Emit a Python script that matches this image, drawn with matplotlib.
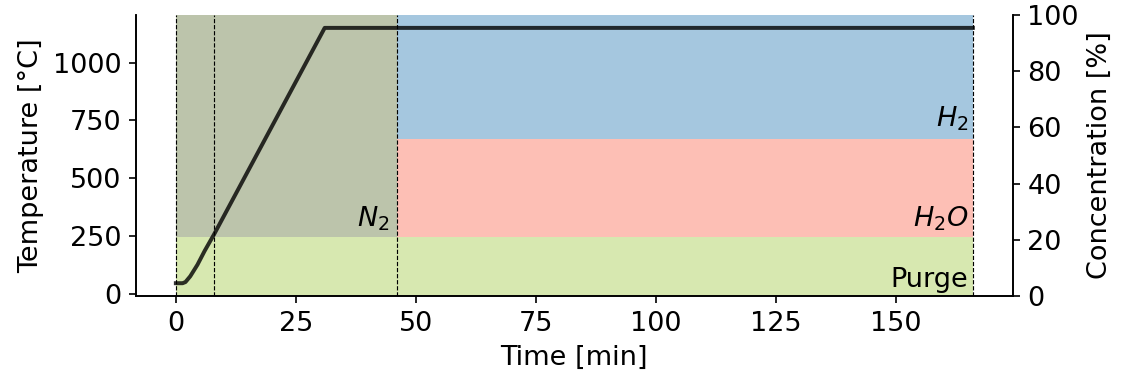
#!/usr/bin/env python

import matplotlib as mpl
mpl.use("Agg")
import matplotlib.pyplot as plt
import numpy as np


# temperature program
t_temp = [0, 1.4, 2, 3, 4.5, 6, 8, 31, 166]
temp = [45, 45, 50, 75, 125, 185, 258, 1150, 1150]

# gas composition, stepwise from each time edge
t_gas = [0, 46, 166]
purge = [21, 21, 21]
n2 = [79, 0, 0]
h2o = [0, 35, 35]
h2 = [0, 44, 44]

# phase boundaries
t_marks = [0, 8, 46, 166]

plt.rcParams['font.size'] = 13

fig, ax = plt.subplots(figsize=(1124 / 150, 378 / 150), dpi=150)
fig.subplots_adjust(left=0.121, right=0.901, top=0.960, bottom=0.217)

ax2 = ax.twinx()
ax.set_zorder(ax2.get_zorder() + 1)
ax.patch.set_visible(False)

lo = np.zeros(len(t_gas))
cols = ['#d7e8b0', '#bcc4ab', '#fdbfb5', '#a5c7df']
for vals, c in zip([purge, n2, h2o, h2], cols):
    hi = lo + np.array(vals)
    ax2.fill_between(t_gas, lo, hi, step='post', color=c, lw=0)
    lo = hi
ax2.set_ylim(0, 100)
ax2.set_ylabel("Concentration [%]")

ax2.text(44.5, 22.5, "$N_2$", ha='right', va='bottom')
ax2.text(165, 22.5, "$H_2O$", ha='right', va='bottom')
ax2.text(165, 58, "$H_2$", ha='right', va='bottom')
ax2.text(165, 1, "Purge", ha='right', va='bottom')

ax.plot(t_temp, temp, '-', color='black', alpha=0.8, lw=1.9)
for tm in t_marks:
    ax.axvline(tm, color='black', ls='--', lw=0.55)

ax.set_xlabel("Time [min]")
ax.set_ylabel("Temperature [°C]")
ax.set_xticks([0, 25, 50, 75, 100, 125, 150])
ax.set_yticks([0, 250, 500, 750, 1000])

for a in (ax, ax2):
    a.spines['top'].set_visible(False)

plt.savefig("out.png", dpi=150)
